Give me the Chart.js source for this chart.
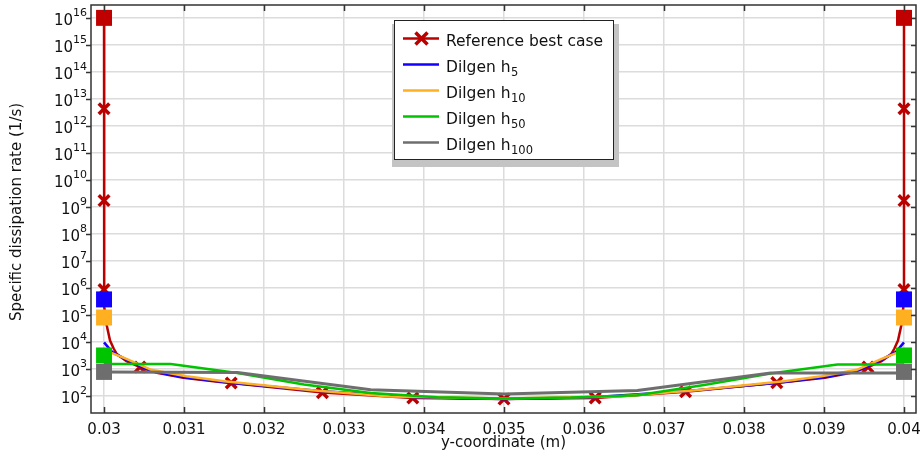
<!DOCTYPE html>
<html>
<head>
<meta charset="utf-8">
<script src="https://cdn.jsdelivr.net/npm/chart.js@4"></script>
<style>
  html, body { margin: 0; padding: 0; background: #fff; }
  #wrap { width: 921px; height: 457px; }
</style>
</head>
<body>
<div id="wrap"><canvas id="chart" width="921" height="457"></canvas></div>
<script>
// reference best case: omega across the channel, refined near both walls
const refX = [0.03, 0.03, 0.03, 0.03, 0.030008, 0.030034, 0.030075, 0.03012, 0.03016, 0.03028,
  0.03045, 0.03066, 0.03099, 0.03145, 0.03159, 0.03273, 0.03386, 0.035, 0.03614, 0.03727,
  0.03841, 0.03855, 0.03901, 0.03934, 0.03955, 0.03972, 0.03984, 0.03988, 0.039925, 0.039966,
  0.039992, 0.04, 0.04, 0.04, 0.04];
const refY = [1e16, 4.3e12, 1.7e9, 8.5e5, 2.0e5, 4.0e4, 1.1e4, 5600, 3500, 1900,
  1150, 700, 460, 320, 295, 130, 82, 75, 83, 140,
  305, 330, 460, 700, 1150, 1900, 3500, 5600, 1.1e4, 4.0e4,
  2.0e5, 8.5e5, 1.7e9, 4.3e12, 1e16];
// points of the reference curve that carry a marker
const refMarked = [1, 2, 3, 10, 14, 15, 16, 17, 18, 19, 20, 24, 31, 32, 33];

const h5X = [0.03, 0.0301, 0.0303, 0.0306, 0.031, 0.0316, 0.0327, 0.0339, 0.035,
  0.0361, 0.0373, 0.0384, 0.039, 0.0394, 0.0397, 0.0399, 0.04];
const h5Y = [9500, 4200, 2000, 800, 480, 295, 150, 88, 76,
  88, 150, 295, 480, 800, 2000, 4200, 9500];

const h10X = [0.03, 0.0301, 0.03028, 0.03059, 0.03103, 0.0315, 0.0326, 0.03358, 0.035,
  0.03642, 0.0374, 0.0385, 0.03897, 0.03941, 0.03972, 0.0399, 0.04];
const h10Y = [4600, 3800, 2300, 910, 525, 340, 160, 93, 78,
  93, 160, 340, 525, 910, 2300, 3800, 4600];

const h50X = [0.03, 0.030833, 0.031667, 0.0325, 0.033333, 0.034167, 0.035,
  0.035833, 0.036667, 0.0375, 0.038333, 0.039167, 0.04];
const h50Y = [1480, 1480, 690, 260, 126, 87, 79, 85, 105, 250, 660, 1420, 1420];

const h100X = [0.03, 0.031667, 0.033333, 0.035, 0.036667, 0.038333, 0.04];
const h100Y = [760, 720, 165, 115, 155, 690, 690];

// wall values of each series (red, blue, orange, green, grey), both walls
const wallY = [1e16, 3.7e5, 7.9e4, 3100, 760];
const wallX = [0.03, 0.04];

const xTicks = [0.03, 0.031, 0.032, 0.033, 0.034, 0.035, 0.036, 0.037, 0.038, 0.039, 0.04];
const xTickLabels = ['0.03', '0.031', '0.032', '0.033', '0.034', '0.035', '0.036', '0.037', '0.038', '0.039', '0.04'];
const yExponents = [2, 3, 4, 5, 6, 7, 8, 9, 10, 11, 12, 13, 14, 15, 16];

const seriesNames = ['Reference best case', 'Dilgen h', 'Dilgen h', 'Dilgen h', 'Dilgen h'];
const seriesSubs = ['', '5', '10', '50', '100'];
const colors = ['#bb0000', '#1400ff', '#ffb020', '#00c400', '#6e6e6e'];
const squareColors = ['#c00000', '#1400ff', '#ffb020', '#00c400', '#6e6e6e'];

const FONT = '"DejaVu Sans", Verdana, sans-serif';
const INK = '#111';

const pts = (xs, ys) => xs.map((x, i) => ({ x: x, y: ys[i] }));

const wallPts = [];
const wallCols = [];
wallX.forEach(x => wallY.forEach((y, i) => { wallPts.push({ x: x, y: y }); wallCols.push(squareColors[i]); }));

const frame = {
  id: 'frame',
  afterDraw(chart) {
    const { ctx, chartArea: a, scales: { x, y } } = chart;
    ctx.save();

    // box and inward/outward ticks
    ctx.strokeStyle = '#333';
    ctx.lineWidth = 1.5;
    ctx.strokeRect(a.left, a.top, a.right - a.left, a.bottom - a.top);
    ctx.beginPath();
    xTicks.forEach(v => {
      const px = Math.round(x.getPixelForValue(v)) + 0.5;
      ctx.moveTo(px, a.bottom); ctx.lineTo(px, a.bottom - 6);
      ctx.moveTo(px, a.top); ctx.lineTo(px, a.top + 6);
    });
    yExponents.forEach(e => {
      const py = Math.round(y.getPixelForValue(Math.pow(10, e))) + 0.5;
      ctx.moveTo(a.left - 5, py); ctx.lineTo(a.left, py);
      ctx.moveTo(a.right - 5, py); ctx.lineTo(a.right, py);
    });
    ctx.stroke();

    // tick labels
    ctx.fillStyle = INK;
    ctx.font = '15px ' + FONT;
    ctx.textAlign = 'center';
    ctx.textBaseline = 'alphabetic';
    xTicks.forEach((v, i) => ctx.fillText(xTickLabels[i], x.getPixelForValue(v), 434));

    ctx.textAlign = 'left';
    yExponents.forEach(e => {
      const py = y.getPixelForValue(Math.pow(10, e));
      const sup = String(e);
      ctx.font = '11px ' + FONT;
      const sw = ctx.measureText(sup).width;
      ctx.font = '15px ' + FONT;
      const bw = ctx.measureText('10').width;
      const right = a.left - 4;
      ctx.fillText('10', right - sw - bw, py + 7.3);
      ctx.font = '11px ' + FONT;
      ctx.fillText(sup, right - sw, py - 2);
    });

    // axis titles
    ctx.font = '15px ' + FONT;
    ctx.textAlign = 'center';
    ctx.fillText('y-coordinate (m)', (a.left + a.right) / 2, 447);
    ctx.save();
    ctx.translate(21, 212);
    ctx.rotate(-Math.PI / 2);
    ctx.fillText('Specific dissipation rate (1/s)', 0, 0);
    ctx.restore();

    // legend with drop shadow
    const bx = 394, by = 20, bw = 219, bh = 139;
    ctx.fillStyle = '#c4c4c4';
    ctx.fillRect(bx - 2, by + 4, bw + 8, bh + 4);
    ctx.fillStyle = '#fff';
    ctx.fillRect(bx, by, bw, bh);
    ctx.strokeStyle = '#222';
    ctx.lineWidth = 1;
    ctx.strokeRect(bx + 0.5, by + 0.5, bw, bh);

    seriesNames.forEach((name, i) => {
      const ry = 38.5 + i * 26;
      ctx.strokeStyle = colors[i];
      ctx.lineWidth = 2.5;
      ctx.beginPath();
      ctx.moveTo(403, ry); ctx.lineTo(439, ry);
      ctx.stroke();
      if (i === 0) {
        ctx.lineWidth = 3.5;
        ctx.beginPath();
        ctx.moveTo(415.5, ry - 6); ctx.lineTo(427.5, ry + 6);
        ctx.moveTo(427.5, ry - 6); ctx.lineTo(415.5, ry + 6);
        ctx.stroke();
      }
      ctx.fillStyle = INK;
      ctx.textAlign = 'left';
      ctx.font = '15.5px ' + FONT;
      ctx.fillText(name, 446, ry + 7.7);
      if (seriesSubs[i]) {
        const w = ctx.measureText(name).width;
        ctx.font = '11.5px ' + FONT;
        ctx.fillText(seriesSubs[i], 446 + w + 0.5, ry + 11.2);
      }
    });

    ctx.restore();
  }
};

const gridOpts = { color: '#dcdcdc', lineWidth: 1.5, drawTicks: false };

new Chart(document.getElementById('chart'), {
  type: 'scatter',
  data: {
    datasets: [
      {
        label: 'Reference best case', data: pts(refX, refY), showLine: true,
        borderColor: colors[0], borderWidth: 2.5, order: 5,
        pointStyle: 'crossRot', pointBorderColor: colors[0], pointBorderWidth: 3.5,
        pointRadius: c => refMarked.includes(c.dataIndex) ? 7.5 : 0
      },
      { label: 'Dilgen h5', data: pts(h5X, h5Y), showLine: true, borderColor: colors[1], borderWidth: 2.5, pointRadius: 0, order: 4 },
      { label: 'Dilgen h10', data: pts(h10X, h10Y), showLine: true, borderColor: colors[2], borderWidth: 2.5, pointRadius: 0, order: 3 },
      { label: 'Dilgen h50', data: pts(h50X, h50Y), showLine: true, borderColor: colors[3], borderWidth: 2.5, pointRadius: 0, order: 2 },
      { label: 'Dilgen h100', data: pts(h100X, h100Y), showLine: true, borderColor: colors[4], borderWidth: 3, pointRadius: 0, order: 1 },
      {
        label: 'walls', data: wallPts, showLine: false, order: 0,
        pointStyle: 'rect', pointRadius: 11.3, pointBorderWidth: 0,
        pointBackgroundColor: wallCols, pointBorderColor: wallCols
      }
    ]
  },
  options: {
    animation: false,
    responsive: false,
    events: [],
    elements: { line: { tension: 0 } },
    layout: { autoPadding: false, padding: { left: 91, top: 5, right: 5, bottom: 44 } },
    plugins: { legend: { display: false }, tooltip: { enabled: false } },
    scales: {
      x: {
        type: 'linear', min: 0.029837, max: 0.04015,
        afterBuildTicks: s => { s.ticks = xTicks.map(v => ({ value: v })); },
        ticks: { display: false },
        grid: gridOpts,
        border: { display: false }
      },
      y: {
        type: 'logarithmic', min: 22.86, max: 3.0e16,
        afterBuildTicks: s => { s.ticks = yExponents.map(e => ({ value: Math.pow(10, e) })); },
        ticks: { display: false },
        grid: gridOpts,
        border: { display: false }
      }
    }
  },
  plugins: [frame]
});
</script>
</body>
</html>
